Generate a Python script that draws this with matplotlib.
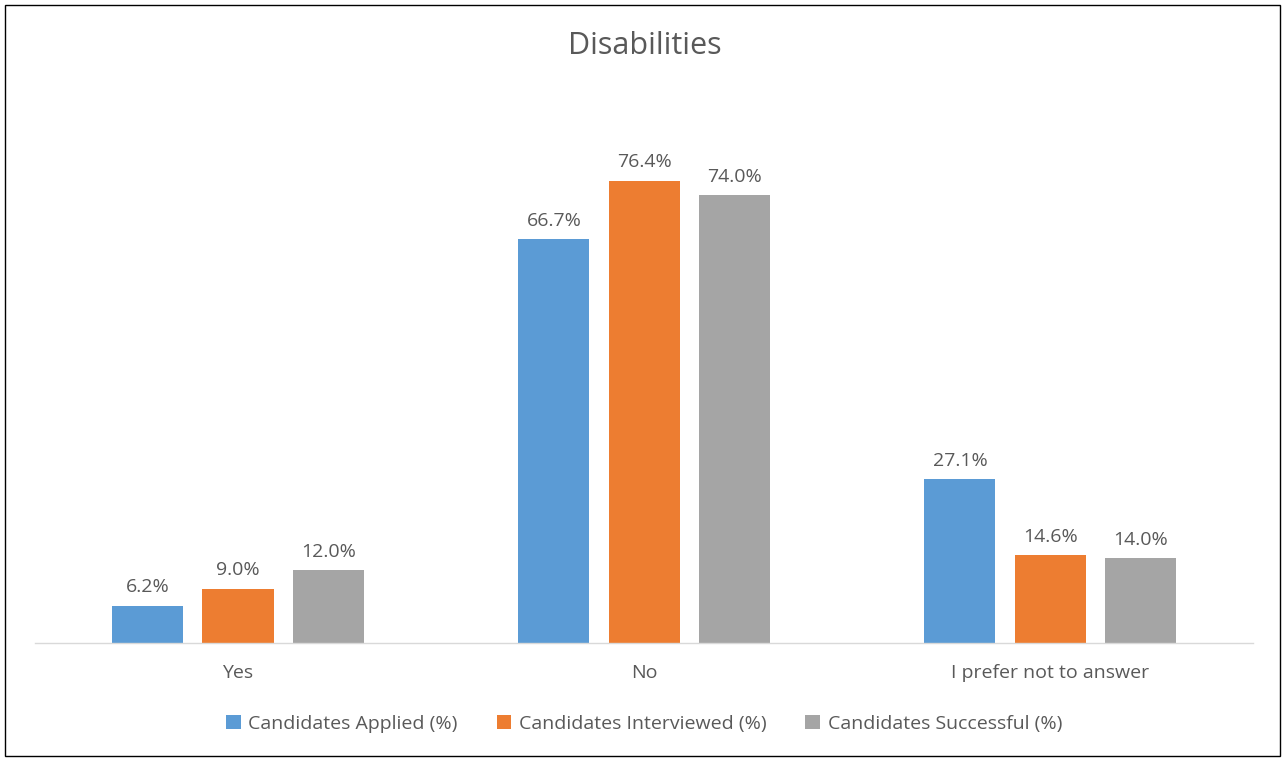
import matplotlib

matplotlib.use("Agg")

import matplotlib.pyplot as plt
import numpy as np
from matplotlib.patches import Rectangle

categories = ["Yes", "No", "I prefer not to answer"]
series_names = [
    "Candidates Applied (%)",
    "Candidates Interviewed (%)",
    "Candidates Successful (%)",
]
applied = [6.2, 66.7, 27.1]
interviewed = [9.0, 76.4, 14.6]
successful = [12.0, 74.0, 14.0]

colors = ["#5B9BD5", "#ED7D31", "#A5A5A5"]
text_color = "#595959"

plt.rcParams["font.family"] = ["Open Sans", "DejaVu Sans"]

fig = plt.figure(figsize=(12.85, 7.61), dpi=100)
ax = fig.add_axes([0.0272, 0.155, 0.948, 0.716])

x = np.arange(len(categories))
width = 0.175
offset = 0.222

for i, (values, name) in enumerate(zip([applied, interviewed, successful], series_names)):
    pos = x + (i - 1) * offset
    bars = ax.bar(pos, values, width, color=colors[i], label=name)
    for b, v in zip(bars, values):
        ax.text(b.get_x() + b.get_width() / 2, v + 1.5, f"{v:.1f}%",
                ha="center", va="bottom", fontsize=14, color=text_color)

ax.set_xlim(-0.5, 2.5)
ax.set_ylim(0, 90)
ax.set_yticks([])
ax.set_xticks(x)
ax.set_xticklabels(categories, fontsize=14, color=text_color)
ax.tick_params(axis="x", length=0, pad=15)
for side in ["top", "right", "left"]:
    ax.spines[side].set_visible(False)
ax.spines["bottom"].set_color("#D9D9D9")
ax.spines["bottom"].set_linewidth(1.0)

fig.text(0.502, 0.94, "Disabilities", ha="center", va="center",
         fontsize=22, color=text_color)

ax.legend(loc="center", bbox_to_anchor=(0.5, -0.148), ncol=3, frameon=False,
          fontsize=14, handlelength=0.75, handleheight=0.75, handletextpad=0.4,
          columnspacing=2.0, labelcolor=text_color)

fig.patches.append(Rectangle((0.004, 0.007), 0.992, 0.986, transform=fig.transFigure,
                             fill=False, edgecolor="black", linewidth=1.0))

fig.savefig("out.png", dpi=100)
